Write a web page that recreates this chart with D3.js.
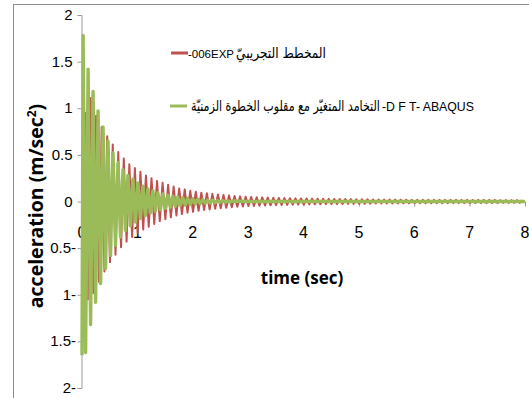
<!DOCTYPE html>
<html>
<head>
<meta charset="utf-8">
<script src="https://cdn.jsdelivr.net/npm/d3@7/dist/d3.min.js"></script>
<style>
  html, body { margin: 0; padding: 0; background: #fff; }
  svg { display: block; }
  .tick-label { font-family: "Liberation Sans Narrow", "Arial Narrow", "Liberation Sans", Arial, sans-serif; fill: #000; }
  .axis-title { font-family: "Open Sans", "DejaVu Sans", sans-serif; font-weight: 700; fill: #000; }
  .legend-latin { font-family: "Liberation Sans Narrow", "Arial Narrow", "Liberation Sans", sans-serif; fill: #000; }
  .legend-arabic { font-family: "DejaVu Sans", "Noto Sans", sans-serif; fill: #000; }
</style>
</head>
<body>
<svg id="chart" width="529" height="398"></svg>
<script>
// Axis ticks
const timeTicks = [0, 1, 2, 3, 4, 5, 6, 7, 8];
const accTicks = [2, 1.5, 1, 0.5, 0, -0.5, -1, -1.5, -2];
const accTickLabels = ["2", "1.5", "1", "0.5", "0", "0.5-", "1-", "1.5-", "2-"];

// Series names (legend), Latin and Arabic parts
const seriesLatin = ["-006EXP", "-D F T- ABAQUS"];
const seriesArabic = ["المخطط التجريبيّ", "التخامد المتغيّر مع مقلوب الخطوة الزمنيّة"];

// Experimental record: successive extrema, sampled every half cycle
const expFirstTime = 0.005;
const expHalfPeriod = 0.05;
const expAcc = [
  0, 0.95, -1.05, 1.11, -0.98, 0.92, -0.86, 0.80, -0.75, 0.70,
  -0.65, 0.61, -0.57, 0.53, -0.49, 0.46, -0.43, 0.40, -0.38, 0.36,
  -0.34, 0.32, -0.30, 0.28, -0.27, 0.25, -0.24, 0.22, -0.21, 0.20,
  -0.19, 0.18, -0.17, 0.16, -0.15, 0.14, -0.135, 0.13, -0.12, 0.115,
  -0.11, 0.105, -0.10, 0.095, -0.09, 0.088, -0.085, 0.082, -0.078, 0.075,
  -0.072, 0.070, -0.067, 0.064, -0.062, 0.060, -0.057, 0.055, -0.053, 0.051,
  -0.049, 0.048, -0.047, 0.046, -0.045, 0.044, -0.043, 0.042, -0.041, 0.040,
  -0.039, 0.038, -0.037, 0.036, -0.036, 0.035, -0.034, 0.034, -0.033, 0.033,
  -0.032, 0.032, -0.031, 0.031, -0.030, 0.030, -0.029, 0.029, -0.028, 0.028,
  -0.028, 0.027, -0.027, 0.026, -0.026, 0.026, -0.025, 0.025, -0.025, 0.024,
  -0.024, 0.024, -0.023, 0.023, -0.023, 0.022, -0.022, 0.022, -0.021, 0.021,
  -0.021, 0.020, -0.020, 0.020, -0.020, 0.019, -0.019, 0.019, -0.019, 0.018,
  -0.018, 0.018, -0.018, 0.018, -0.018, 0.018, -0.018, 0.018, -0.018, 0.018,
  -0.018, 0.017, -0.017, 0.017, -0.017, 0.017, -0.017, 0.017, -0.017, 0.017,
  -0.017, 0.016, -0.016, 0.016, -0.016, 0.016, -0.016, 0.016, -0.016, 0.016,
  -0.016, 0.015, -0.015, 0.015, -0.015, 0.015, -0.015, 0.015, -0.015, 0.015
];

// DFT-ABAQUS response: starting value, then extrema every half cycle, then the settled tail
const dftStartTime = 0;
const dftStartAcc = -1.65;
const dftFirstTime = 0.02;
const dftHalfPeriod = 0.045;
const dftAcc = [
  1.78, -1.62, 1.42, -1.32, 1.18, -1.08, 0.97, -0.88, 0.80, -0.72,
  0.65, -0.58, 0.52, -0.47, 0.42, -0.38, 0.34, -0.31, 0.28, -0.26,
  0.24, -0.22, 0.20, -0.18, 0.165, -0.15, 0.135, -0.125, 0.115, -0.105,
  0.095, -0.088, 0.080, -0.074, 0.068, -0.062, 0.057, -0.052, 0.048, -0.044,
  0.040, -0.037, 0.034, -0.031, 0.028, -0.026, 0.024, -0.022, 0.020, -0.018,
  0.016, -0.015, 0.014, -0.012, 0.011, -0.010, 0.009, -0.008, 0.007, -0.006,
  0.005
];
const dftTailTime = [3, 4, 5, 6, 7, 8];
const dftTailAcc = [0, 0, 0, 0, 0, 0];

const expColor = "#C0504D";
const dftColor = "#9BBB59";

const svg = d3.select("#chart");

// Outer chart frame
svg.append("rect")
  .attr("x", 13.5).attr("y", 4.5)
  .attr("width", 540).attr("height", 420)
  .attr("fill", "none").attr("stroke", "#8c8c8c").attr("stroke-width", 1);

const x = d3.scaleLinear().domain([0, 8]).range([82, 525]);
const y = d3.scaleLinear().domain([-2, 2]).range([388, 15]);

// Y axis
const yAxis = svg.append("g")
  .attr("transform", "translate(81.5,0)")
  .call(d3.axisLeft(y).tickValues(accTicks).tickSize(4).tickFormat(""));
yAxis.selectAll("path, line").attr("stroke", "#9a9a9a");

svg.append("g").selectAll("text")
  .data(accTicks)
  .join("text")
  .attr("class", "tick-label")
  .attr("x", (d, i) => accTickLabels[i].endsWith("-") ? 76 : 72.5)
  .attr("y", d => y(d) + 5)
  .attr("text-anchor", "end")
  .attr("font-size", 15)
  .text((d, i) => accTickLabels[i]);

// X axis on the zero line
const xAxis = svg.append("g")
  .attr("transform", `translate(0,${y(0)})`)
  .call(d3.axisBottom(x).tickValues(timeTicks).tickSize(5).tickSizeOuter(0).tickFormat(""));
xAxis.selectAll("path, line").attr("stroke", "#9a9a9a");

svg.append("g").selectAll("text")
  .data(timeTicks)
  .join("text")
  .attr("class", "tick-label")
  .attr("x", d => x(d))
  .attr("y", 238)
  .attr("text-anchor", "middle")
  .attr("font-size", 16)
  .text(d => String(d));

// Series points
const expPoints = expAcc.map((v, i) => [expFirstTime + i * expHalfPeriod, v]);
const dftPoints = [[dftStartTime, dftStartAcc]]
  .concat(dftAcc.map((v, i) => [dftFirstTime + i * dftHalfPeriod, v]))
  .concat(dftTailTime.map((t, i) => [t, dftTailAcc[i]]));

const line = d3.line().x(d => x(d[0])).y(d => y(d[1]));

svg.append("path")
  .datum(expPoints)
  .attr("d", line)
  .attr("fill", "none")
  .attr("stroke", expColor)
  .attr("stroke-width", 2)
  .attr("stroke-linejoin", "round");

svg.append("path")
  .datum(dftPoints)
  .attr("d", line)
  .attr("fill", "none")
  .attr("stroke", dftColor)
  .attr("stroke-width", 3.4)
  .attr("stroke-linejoin", "round");

// Axis titles
svg.append("text")
  .attr("class", "axis-title")
  .attr("x", 302).attr("y", 284)
  .attr("text-anchor", "middle")
  .attr("font-size", 17)
  .text("time (sec)");

const yTitle = svg.append("text")
  .attr("class", "axis-title")
  .attr("transform", "translate(43,206) rotate(-90)")
  .attr("text-anchor", "middle")
  .attr("font-size", 19.5);
yTitle.append("tspan").text("acceleration (m/sec");
yTitle.append("tspan").attr("font-size", 12).attr("dy", -7).text("2");
yTitle.append("tspan").attr("dy", 7).text(")");

// Legend: sample line, then the Latin and Arabic parts of each name
function fitText(sel, width, base) {
  sel.attr("font-size", base);
  const w = sel.node().getComputedTextLength();
  if (w > 0) sel.attr("font-size", base * width / w);
}
// Narrow a text horizontally to a given width, keeping its height
function squeezeText(sel, x0, y0, width, size) {
  sel.attr("font-size", size).attr("x", 0).attr("y", 0);
  const w = sel.node().getComputedTextLength();
  const k = w > 0 ? width / w : 1;
  sel.attr("transform", `translate(${x0},${y0}) scale(${k},1)`);
}

const legend = svg.append("g");
// row 0: line, Latin part, Arabic part
legend.append("line")
  .attr("x1", 171).attr("x2", 188).attr("y1", 53).attr("y2", 53)
  .attr("stroke", expColor).attr("stroke-width", 3);
const l0 = legend.append("text").attr("class", "legend-latin")
  .attr("x", 188).attr("y", 58).text(seriesLatin[0]);
fitText(l0, 46, 15);
const a0 = legend.append("text").attr("class", "legend-arabic").text(seriesArabic[0]);
squeezeText(a0, 236, 58, 90, 15);

// row 1: line, Arabic part, Latin part
legend.append("line")
  .attr("x1", 170).attr("x2", 187).attr("y1", 106).attr("y2", 106)
  .attr("stroke", dftColor).attr("stroke-width", 3);
const a1 = legend.append("text").attr("class", "legend-arabic").text(seriesArabic[1]);
squeezeText(a1, 191, 111, 189, 15);
const l1 = legend.append("text").attr("class", "legend-latin")
  .attr("x", 382).attr("y", 111).text(seriesLatin[1]);
fitText(l1, 92, 15);
</script>
</body>
</html>
